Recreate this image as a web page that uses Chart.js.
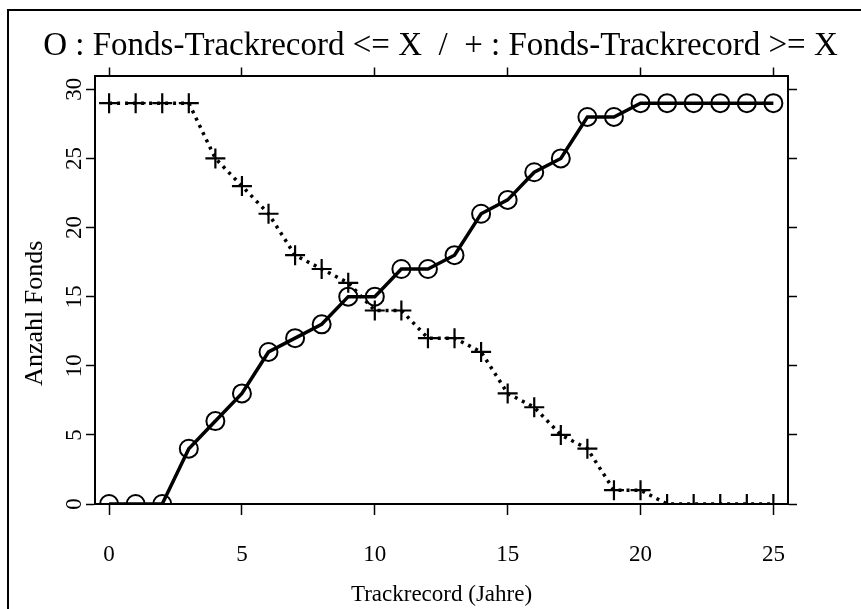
<!DOCTYPE html>
<html lang="de">
<head>
<meta charset="utf-8">
<title>Anzahl Fonds nach Trackrecord</title>
<script src="https://cdn.jsdelivr.net/npm/chart.js@4/dist/chart.umd.min.js"></script>
<style>
    html, body { margin: 0; padding: 0; background: #fff; }
    .wrap { position: relative; width: 861px; height: 609px; overflow: hidden; }
    /* outer figure frame, runs off the right/bottom edge */
    .frame {
        position: absolute; left: 7px; top: 9px; width: 900px; height: 700px;
        border-left: 2px solid #000; border-top: 2px solid #000;
    }
    canvas { position: absolute; left: 0; top: 0; }
</style>
</head>
<body>
<div class="wrap">
    <div class="frame"></div>
    <canvas id="chart" width="861" height="609"></canvas>
</div>
<script>
// Data
const jahre = [0, 1, 2, 3, 4, 5, 6, 7, 8, 9, 10, 11, 12, 13, 14, 15, 16, 17, 18, 19, 20, 21, 22, 23, 24, 25];
const fondsBis = [0, 0, 0, 4, 6, 8, 11, 12, 13, 15, 15, 17, 17, 18, 21, 22, 24, 25, 28, 28, 29, 29, 29, 29, 29, 29];   // O : <= X
const fondsAb = [29, 29, 29, 29, 25, 23, 21, 18, 17, 16, 14, 14, 12, 12, 11, 8, 7, 5, 4, 1, 1, 0, 0, 0, 0, 0];     // + : >= X
const xTicks = [0, 5, 10, 15, 20, 25];
const yTicks = [0, 5, 10, 15, 20, 25, 30];

const FONT = "'Liberation Serif', 'Times New Roman', serif";
const X_MIN = -0.53, X_MAX = 25.55;
const Y_MIN = 0, Y_MAX = 31;

const toPoints = (ys) => jahre.map((x, i) => ({ x: x, y: ys[i] }));

// shared look for the frame + outward tick marks
function gridOpts(len) {
    return { drawOnChartArea: false, drawTicks: true, tickLength: len, tickColor: '#000', tickWidth: 1.5 };
}
const borderOpts = { display: true, color: '#000', width: 2 };

// y axis title, drawn a bit below the middle of the plot
const yTitlePlugin = {
    id: 'yTitle',
    afterDraw(chart) {
        const { ctx, chartArea } = chart;
        const cy = chartArea.top + (chartArea.bottom - chartArea.top) * 0.555;
        ctx.save();
        ctx.translate(35, cy);
        ctx.rotate(-Math.PI / 2);
        ctx.fillStyle = '#000';
        ctx.font = '26px ' + FONT;
        ctx.textAlign = 'center';
        ctx.textBaseline = 'middle';
        ctx.fillText('Anzahl Fonds', 0, 0);
        ctx.restore();
    }
};

const ctx = document.getElementById('chart').getContext('2d');
new Chart(ctx, {
    type: 'line',
    data: {
        datasets: [
            {
                label: 'Fonds-Trackrecord <= X',
                data: toPoints(fondsBis),
                borderColor: '#000',
                borderWidth: 3.5,
                pointStyle: 'circle',
                pointRadius: 9,
                pointBorderWidth: 2,
                pointBorderColor: '#000',
                pointBackgroundColor: 'rgba(0,0,0,0)',
                tension: 0,
                clip: 0
            },
            {
                label: 'Fonds-Trackrecord >= X',
                data: toPoints(fondsAb),
                borderColor: '#000',
                borderWidth: 3.5,
                borderDash: [3, 5],
                pointStyle: 'cross',
                pointRadius: 10,
                pointBorderWidth: 2.2,
                pointBorderColor: '#000',
                tension: 0,
                clip: 0
            }
        ]
    },
    options: {
        responsive: false,
        animation: false,
        layout: { padding: { left: 20, top: 0, right: 0, bottom: 0 } },
        plugins: {
            legend: { display: false },
            tooltip: { enabled: false },
            title: {
                display: true,
                text: 'O : Fonds-Trackrecord <= X  /  + : Fonds-Trackrecord >= X',
                color: '#000',
                font: { family: FONT, size: 33, weight: 'normal' },
                padding: { top: 27, bottom: 0 }
            }
        },
        scales: {
            x: {
                type: 'linear', position: 'bottom', min: X_MIN, max: X_MAX,
                afterBuildTicks: (s) => { s.ticks = xTicks.map(v => ({ value: v })); },
                afterFit: (s) => { s.height = 105; },
                grid: gridOpts(11),
                border: borderOpts,
                ticks: { color: '#000', font: { family: FONT, size: 23 }, padding: 26, maxRotation: 0 },
                title: {
                    display: true, text: 'Trackrecord (Jahre)', color: '#000',
                    font: { family: FONT, size: 23 }, padding: { top: 0, bottom: 0 }
                }
            },
            x2: {
                type: 'linear', position: 'top', min: X_MIN, max: X_MAX,
                afterBuildTicks: (s) => { s.ticks = xTicks.map(v => ({ value: v })); },
                afterFit: (s) => { s.height = 8.9; },
                grid: gridOpts(8),
                border: borderOpts,
                ticks: { display: false }
            },
            y: {
                type: 'linear', position: 'left', min: Y_MIN, max: Y_MAX,
                afterBuildTicks: (s) => { s.ticks = yTicks.map(v => ({ value: v })); },
                afterFit: (s) => { s.width = 75; },
                grid: gridOpts(9),
                border: borderOpts,
                ticks: {
                    color: '#000', font: { family: FONT, size: 23 },
                    minRotation: 90, maxRotation: 90, crossAlign: 'center', padding: 0
                }
            },
            y2: {
                type: 'linear', position: 'right', min: Y_MIN, max: Y_MAX,
                afterBuildTicks: (s) => { s.ticks = yTicks.map(v => ({ value: v })); },
                afterFit: (s) => { s.width = 73; },
                grid: gridOpts(9),
                border: borderOpts,
                ticks: { display: false }
            }
        }
    },
    plugins: [yTitlePlugin]
});
</script>
</body>
</html>
